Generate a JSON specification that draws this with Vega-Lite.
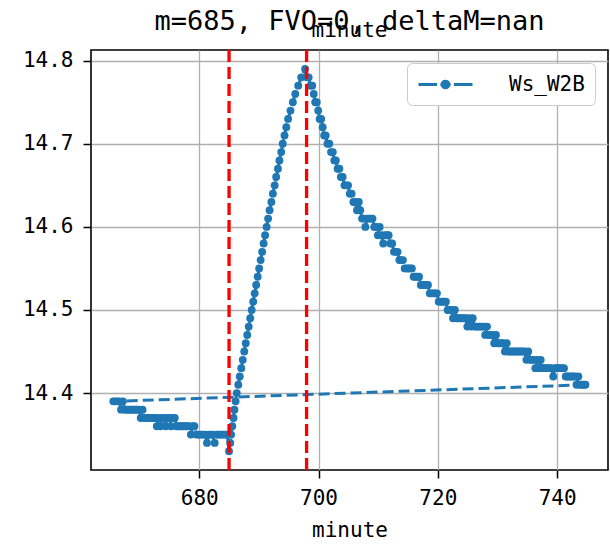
{
  "$schema": "https://vega.github.io/schema/vega-lite/v6.json",
  "width": 517,
  "height": 420,
  "autosize": "none",
  "padding": {"left": 91, "top": 50, "right": 2, "bottom": 79},
  "background": "white",
  "title": {
    "text": "m=685, FVO=0, deltaM=nan",
    "subtitle": "minute",
    "font": "DejaVu Sans Mono",
    "fontSize": 27,
    "fontWeight": "normal",
    "color": "black",
    "subtitleFont": "DejaVu Sans Mono",
    "subtitleFontSize": 21,
    "subtitleColor": "black",
    "subtitlePadding": -16,
    "offset": 6,
    "anchor": "middle"
  },
  "config": {
    "view": {"stroke": "black", "strokeWidth": 1.6},
    "axis": {
      "labelFont": "DejaVu Sans Mono",
      "labelFontSize": 21,
      "labelColor": "black",
      "titleFont": "DejaVu Sans Mono",
      "titleFontSize": 21,
      "titleFontWeight": "normal",
      "titleColor": "black",
      "domain": false,
      "grid": true,
      "gridColor": "#b0b0b0",
      "gridWidth": 1.3,
      "gridOpacity": 1,
      "tickColor": "black",
      "tickSize": 8,
      "tickWidth": 1.5
    }
  },
  "datasets": {
    "ws": [
      {"i":0,"m":744.75,"v":14.41},
      {"i":1,"m":665.6,"v":14.39},{"i":2,"m":665.9,"v":14.39},{"i":3,"m":666.3,"v":14.39},{"i":4,"m":666.6,"v":14.39},{"i":5,"m":666.9,"v":14.38},{"i":6,"m":667.2,"v":14.39},{"i":7,"m":667.5,"v":14.38},{"i":8,"m":667.8,"v":14.38},{"i":9,"m":668.1,"v":14.38},{"i":10,"m":668.4,"v":14.38},
      {"i":11,"m":668.7,"v":14.38},{"i":12,"m":669.0,"v":14.38},{"i":13,"m":669.3,"v":14.38},{"i":14,"m":669.6,"v":14.38},{"i":15,"m":669.9,"v":14.38},{"i":16,"m":670.2,"v":14.37},{"i":17,"m":670.5,"v":14.38},{"i":18,"m":670.8,"v":14.37},{"i":19,"m":671.1,"v":14.37},{"i":20,"m":671.4,"v":14.37},
      {"i":21,"m":671.7,"v":14.37},{"i":22,"m":672.0,"v":14.37},{"i":23,"m":672.3,"v":14.37},{"i":24,"m":672.6,"v":14.37},{"i":25,"m":672.9,"v":14.36},{"i":26,"m":673.2,"v":14.37},{"i":27,"m":673.5,"v":14.36},{"i":28,"m":673.8,"v":14.37},{"i":29,"m":674.1,"v":14.37},{"i":30,"m":674.4,"v":14.36},
      {"i":31,"m":674.7,"v":14.37},{"i":32,"m":675.0,"v":14.37},{"i":33,"m":675.3,"v":14.36},{"i":34,"m":675.6,"v":14.37},{"i":35,"m":675.9,"v":14.37},{"i":36,"m":676.2,"v":14.36},{"i":37,"m":676.5,"v":14.36},{"i":38,"m":676.8,"v":14.36},{"i":39,"m":677.1,"v":14.36},{"i":40,"m":677.4,"v":14.36},
      {"i":41,"m":677.7,"v":14.36},{"i":42,"m":678.0,"v":14.36},{"i":43,"m":678.3,"v":14.36},{"i":44,"m":678.6,"v":14.35},{"i":45,"m":678.9,"v":14.36},{"i":46,"m":679.2,"v":14.36},{"i":47,"m":679.5,"v":14.35},{"i":48,"m":679.8,"v":14.35},{"i":49,"m":680.1,"v":14.35},{"i":50,"m":680.4,"v":14.35},
      {"i":51,"m":680.7,"v":14.35},{"i":52,"m":681.0,"v":14.35},{"i":53,"m":681.3,"v":14.34},{"i":54,"m":681.6,"v":14.35},{"i":55,"m":681.9,"v":14.35},{"i":56,"m":682.2,"v":14.35},{"i":57,"m":682.6,"v":14.34},{"i":58,"m":682.9,"v":14.35},{"i":59,"m":683.2,"v":14.35},{"i":60,"m":683.5,"v":14.35},
      {"i":61,"m":683.8,"v":14.35},{"i":62,"m":684.1,"v":14.35},{"i":63,"m":684.4,"v":14.35},{"i":64,"m":684.7,"v":14.35},{"i":65,"m":685.0,"v":14.33},
      {"i":66,"m":685.2,"v":14.34},{"i":67,"m":685.35,"v":14.35},{"i":68,"m":685.55,"v":14.36},{"i":69,"m":685.75,"v":14.37},{"i":70,"m":685.9,"v":14.38},{"i":71,"m":686.1,"v":14.39},{"i":72,"m":686.3,"v":14.40},{"i":73,"m":686.55,"v":14.41},{"i":74,"m":686.8,"v":14.42},{"i":75,"m":687.05,"v":14.43},
      {"i":76,"m":687.3,"v":14.44},{"i":77,"m":687.55,"v":14.45},{"i":78,"m":687.8,"v":14.46},{"i":79,"m":688.05,"v":14.47},{"i":80,"m":688.3,"v":14.48},{"i":81,"m":688.55,"v":14.49},{"i":82,"m":688.8,"v":14.50},{"i":83,"m":689.05,"v":14.51},{"i":84,"m":689.3,"v":14.52},{"i":85,"m":689.55,"v":14.53},
      {"i":86,"m":689.8,"v":14.54},{"i":87,"m":690.05,"v":14.55},{"i":88,"m":690.3,"v":14.56},{"i":89,"m":690.55,"v":14.57},{"i":90,"m":690.8,"v":14.58},{"i":91,"m":691.05,"v":14.59},{"i":92,"m":691.3,"v":14.60},{"i":93,"m":691.55,"v":14.61},{"i":94,"m":691.8,"v":14.62},{"i":95,"m":692.1,"v":14.63},
      {"i":96,"m":692.35,"v":14.64},{"i":97,"m":692.65,"v":14.65},{"i":98,"m":692.9,"v":14.66},{"i":99,"m":693.2,"v":14.67},{"i":100,"m":693.45,"v":14.68},{"i":101,"m":693.75,"v":14.69},{"i":102,"m":694.0,"v":14.70},{"i":103,"m":694.3,"v":14.71},{"i":104,"m":694.6,"v":14.72},{"i":105,"m":694.9,"v":14.73},
      {"i":106,"m":695.3,"v":14.74},{"i":107,"m":695.7,"v":14.75},{"i":108,"m":696.1,"v":14.76},{"i":109,"m":696.6,"v":14.77},{"i":110,"m":697.1,"v":14.78},{"i":111,"m":697.75,"v":14.79},
      {"i":112,"m":698.05,"v":14.78},{"i":113,"m":698.35,"v":14.78},{"i":114,"m":698.65,"v":14.77},{"i":115,"m":698.95,"v":14.77},{"i":116,"m":699.2,"v":14.76},{"i":117,"m":699.45,"v":14.75},{"i":118,"m":699.7,"v":14.75},{"i":119,"m":699.95,"v":14.74},{"i":120,"m":700.2,"v":14.73},
      {"i":121,"m":700.45,"v":14.73},{"i":122,"m":700.7,"v":14.72},{"i":123,"m":700.95,"v":14.71},{"i":124,"m":701.2,"v":14.71},{"i":125,"m":701.5,"v":14.70},{"i":126,"m":701.8,"v":14.70},{"i":127,"m":702.1,"v":14.69},{"i":128,"m":702.4,"v":14.69},{"i":129,"m":702.65,"v":14.68},{"i":130,"m":702.9,"v":14.68},
      {"i":131,"m":703.2,"v":14.67},{"i":132,"m":703.5,"v":14.67},{"i":133,"m":703.75,"v":14.66},{"i":134,"m":704.05,"v":14.66},{"i":135,"m":704.35,"v":14.65},{"i":136,"m":704.65,"v":14.65},{"i":137,"m":704.95,"v":14.65},{"i":138,"m":705.25,"v":14.64},{"i":139,"m":705.55,"v":14.64},{"i":140,"m":705.85,"v":14.63},
      {"i":141,"m":706.15,"v":14.63},{"i":142,"m":706.45,"v":14.62},{"i":143,"m":706.75,"v":14.63},{"i":144,"m":707.0,"v":14.62},{"i":145,"m":707.3,"v":14.61},{"i":146,"m":707.6,"v":14.61},{"i":147,"m":707.85,"v":14.60},{"i":148,"m":708.15,"v":14.61},{"i":149,"m":708.45,"v":14.61},{"i":150,"m":708.75,"v":14.61},
      {"i":151,"m":709.05,"v":14.61},{"i":152,"m":709.35,"v":14.60},{"i":153,"m":709.65,"v":14.60},{"i":154,"m":709.95,"v":14.59},{"i":155,"m":710.25,"v":14.60},{"i":156,"m":710.55,"v":14.59},{"i":157,"m":710.85,"v":14.58},{"i":158,"m":711.15,"v":14.59},{"i":159,"m":711.45,"v":14.59},{"i":160,"m":711.75,"v":14.59},
      {"i":161,"m":712.05,"v":14.58},{"i":162,"m":712.35,"v":14.58},{"i":163,"m":712.65,"v":14.57},{"i":164,"m":712.95,"v":14.57},{"i":165,"m":713.25,"v":14.57},{"i":166,"m":713.55,"v":14.56},{"i":167,"m":713.85,"v":14.56},{"i":168,"m":714.15,"v":14.56},{"i":169,"m":714.45,"v":14.55},{"i":170,"m":714.75,"v":14.55},
      {"i":171,"m":715.05,"v":14.55},{"i":172,"m":715.35,"v":14.55},{"i":173,"m":715.65,"v":14.55},{"i":174,"m":715.95,"v":14.54},{"i":175,"m":716.25,"v":14.54},{"i":176,"m":716.55,"v":14.54},{"i":177,"m":716.85,"v":14.54},{"i":178,"m":717.15,"v":14.53},{"i":179,"m":717.45,"v":14.53},{"i":180,"m":717.75,"v":14.53},
      {"i":181,"m":718.05,"v":14.53},{"i":182,"m":718.35,"v":14.53},{"i":183,"m":718.65,"v":14.52},{"i":184,"m":718.95,"v":14.52},{"i":185,"m":719.25,"v":14.52},{"i":186,"m":719.55,"v":14.52},{"i":187,"m":719.85,"v":14.52},{"i":188,"m":720.15,"v":14.51},{"i":189,"m":720.45,"v":14.51},{"i":190,"m":720.75,"v":14.51},
      {"i":191,"m":721.05,"v":14.51},{"i":192,"m":721.35,"v":14.51},{"i":193,"m":721.65,"v":14.50},{"i":194,"m":721.95,"v":14.50},{"i":195,"m":722.25,"v":14.50},{"i":196,"m":722.55,"v":14.49},{"i":197,"m":722.85,"v":14.50},{"i":198,"m":723.15,"v":14.49},{"i":199,"m":723.45,"v":14.49},{"i":200,"m":723.75,"v":14.49},
      {"i":201,"m":724.05,"v":14.49},{"i":202,"m":724.35,"v":14.49},{"i":203,"m":724.65,"v":14.49},{"i":204,"m":724.95,"v":14.48},{"i":205,"m":725.25,"v":14.49},{"i":206,"m":725.55,"v":14.48},{"i":207,"m":725.85,"v":14.49},{"i":208,"m":726.15,"v":14.48},{"i":209,"m":726.45,"v":14.48},{"i":210,"m":726.75,"v":14.48},
      {"i":211,"m":727.05,"v":14.48},{"i":212,"m":727.35,"v":14.48},{"i":213,"m":727.65,"v":14.48},{"i":214,"m":727.95,"v":14.47},{"i":215,"m":728.25,"v":14.48},{"i":216,"m":728.55,"v":14.47},{"i":217,"m":728.85,"v":14.47},{"i":218,"m":729.15,"v":14.47},{"i":219,"m":729.45,"v":14.46},{"i":220,"m":729.75,"v":14.47},
      {"i":221,"m":730.05,"v":14.46},{"i":222,"m":730.35,"v":14.46},{"i":223,"m":730.65,"v":14.46},{"i":224,"m":730.95,"v":14.46},{"i":225,"m":731.25,"v":14.45},{"i":226,"m":731.55,"v":14.46},{"i":227,"m":731.85,"v":14.45},{"i":228,"m":732.15,"v":14.45},{"i":229,"m":732.45,"v":14.45},{"i":230,"m":732.75,"v":14.45},
      {"i":231,"m":733.05,"v":14.45},{"i":232,"m":733.35,"v":14.45},{"i":233,"m":733.65,"v":14.45},{"i":234,"m":733.95,"v":14.45},{"i":235,"m":734.25,"v":14.45},{"i":236,"m":734.55,"v":14.45},{"i":237,"m":734.85,"v":14.44},{"i":238,"m":735.15,"v":14.45},{"i":239,"m":735.45,"v":14.44},{"i":240,"m":735.75,"v":14.44},
      {"i":241,"m":736.05,"v":14.44},{"i":242,"m":736.35,"v":14.43},{"i":243,"m":736.65,"v":14.44},{"i":244,"m":736.95,"v":14.43},{"i":245,"m":737.25,"v":14.44},{"i":246,"m":737.55,"v":14.43},{"i":247,"m":737.85,"v":14.43},{"i":248,"m":738.15,"v":14.43},{"i":249,"m":738.45,"v":14.43},{"i":250,"m":738.75,"v":14.43},
      {"i":251,"m":739.05,"v":14.43},{"i":252,"m":739.35,"v":14.42},{"i":253,"m":739.65,"v":14.43},{"i":254,"m":739.95,"v":14.43},{"i":255,"m":740.25,"v":14.43},{"i":256,"m":740.55,"v":14.43},{"i":257,"m":740.85,"v":14.43},{"i":258,"m":741.15,"v":14.43},{"i":259,"m":741.45,"v":14.42},{"i":260,"m":741.75,"v":14.42},
      {"i":261,"m":742.05,"v":14.42},{"i":262,"m":742.35,"v":14.42},{"i":263,"m":742.65,"v":14.42},{"i":264,"m":742.95,"v":14.42},{"i":265,"m":743.25,"v":14.41},{"i":266,"m":743.55,"v":14.42},{"i":267,"m":743.85,"v":14.41},{"i":268,"m":744.15,"v":14.41},{"i":269,"m":744.45,"v":14.41}
    ],
    "marks": [{"m": 685}, {"m": 698}]
  },
  "layer": [
    {
      "data": {"name": "ws"},
      "mark": {"type": "line", "strokeWidth": 3, "strokeDash": [11, 5], "clip": true},
      "encoding": {
        "x": {"field": "m", "type": "quantitative", "scale": {"domain": [661.86, 748.53], "nice": false, "zero": false},
              "axis": {"values": [680, 700, 720, 740], "title": "minute", "labelPadding": 9, "titlePadding": 11}},
        "y": {"field": "v", "type": "quantitative", "scale": {"domain": [14.3074, 14.8129], "nice": false, "zero": false},
              "axis": {"values": [14.4, 14.5, 14.6, 14.7, 14.8], "format": ".1f", "title": null, "labelPadding": 10}},
        "order": {"field": "i", "type": "quantitative"},
        "color": {
          "datum": "Ws_W2B",
          "scale": {"range": ["#1f77b4"]},
          "legend": {
            "title": null,
            "orient": "top-right",
            "offset": 13,
            "padding": 10,
            "strokeColor": "#cccccc",
            "fillColor": "white",
            "cornerRadius": 5,
            "symbolType": "M-2.7,0H-0.84M-0.51,0H0.51M0.84,0H2.7M0.33,0A0.33,0.33,0,1,1,-0.33,0A0.33,0.33,0,1,1,0.33,0Z",
            "symbolSize": 400,
            "symbolOffset": 17,
            "symbolStrokeWidth": 3,
            "symbolStrokeColor": "#1f77b4",
            "symbolFillColor": "#1f77b4",
            "labelFont": "DejaVu Sans Mono",
            "labelFontSize": 21,
            "labelColor": "black",
            "labelOffset": 52
          }
        }
      }
    },
    {
      "data": {"name": "ws"},
      "mark": {"type": "point", "filled": true, "size": 62, "opacity": 1, "clip": true},
      "encoding": {
        "x": {"field": "m", "type": "quantitative"},
        "y": {"field": "v", "type": "quantitative"},
        "color": {"datum": "Ws_W2B"}
      }
    },
    {
      "data": {"name": "marks"},
      "mark": {"type": "rule", "color": "#ff0000", "strokeWidth": 3.3, "strokeDash": [12, 5]},
      "encoding": {
        "x": {"field": "m", "type": "quantitative"}
      }
    }
  ]
}
